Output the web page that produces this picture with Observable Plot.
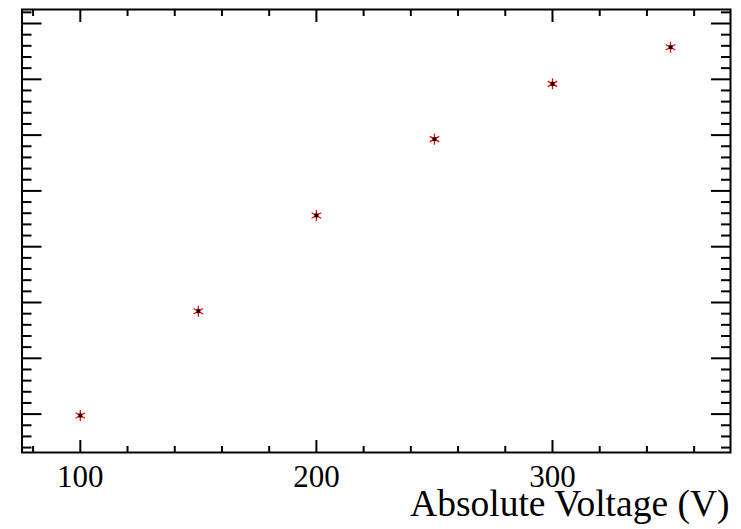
<!DOCTYPE html>
<html>
<head>
<meta charset="utf-8">
<script src="https://cdn.jsdelivr.net/npm/d3@7"></script>
<script src="https://cdn.jsdelivr.net/npm/@observablehq/plot@0.6"></script>
<style>
  html, body { margin: 0; padding: 0; background: #fff; }
  #chart svg { display: block; }
</style>
</head>
<body>
<div id="chart"></div>
<script>
// Data
const voltage = [100, 150, 200, 250, 300, 350];
const signal = [-0.025, 1.844, 3.56, 4.927, 5.919, 6.575];

// Axis ticks
const xMajorTicks = [100, 200, 300];
const xMinorTicks = [80, 120, 140, 160, 180, 220, 240, 260, 280, 320, 340, 360];
const yMajorTicks = [0, 1, 2, 3, 4, 5, 6, 7];
const yMinorTicks = d3.range(-3, 37).map(i => i * 0.2).filter(v => Math.abs(v - Math.round(v)) > 1e-6);
const xTitle = "Absolute Voltage (V)";

const points = voltage.map((v, i) => ({voltage: v, signal: signal[i]}));

const tickOpts = {text: null, strokeWidth: 2, label: null};

const chart = Plot.plot({
  width: 741,
  height: 529,
  marginLeft: 21.5,
  marginRight: 11,
  marginTop: 9,
  marginBottom: 77,
  style: {fontFamily: "Liberation Serif", fontSize: "31px", background: "#fff", color: "#000"},
  x: {domain: [75.3, 375.4]},
  y: {domain: [-0.688, 7.251]},
  marks: [
    // bottom axis ticks (inward)
    Plot.axisX(xMajorTicks, {anchor: "bottom", tickSize: -12, ...tickOpts}),
    Plot.axisX(xMinorTicks, {anchor: "bottom", tickSize: -6, ...tickOpts}),
    // top axis ticks (inward)
    Plot.axisX(xMajorTicks, {anchor: "top", tickSize: -12, ...tickOpts}),
    Plot.axisX(xMinorTicks, {anchor: "top", tickSize: -6, ...tickOpts}),
    // bottom tick labels
    Plot.axisX(xMajorTicks, {anchor: "bottom", tickSize: 0, tickPadding: 12, fontSize: 31, label: null}),
    // left axis ticks
    Plot.axisY(yMajorTicks, {anchor: "left", tickSize: -20, ...tickOpts}),
    Plot.axisY(yMinorTicks, {anchor: "left", tickSize: -10, ...tickOpts}),
    // right axis ticks
    Plot.axisY(yMajorTicks, {anchor: "right", tickSize: -20, ...tickOpts}),
    Plot.axisY(yMinorTicks, {anchor: "right", tickSize: -10, ...tickOpts}),
    Plot.frame({stroke: "#000", strokeWidth: 2}),
    // axis title
    Plot.text([xTitle], {frameAnchor: "bottom-right", textAnchor: "end", lineAnchor: "bottom", dy: 63, dx: -1, fontSize: 37.5}),
    // markers
    Plot.dot(points, {x: "voltage", y: "signal", symbol: "asterisk", r: 5.2, stroke: "#ff0000", strokeWidth: 1.3}),
    Plot.dot(points, {x: "voltage", y: "signal", symbol: "square", r: 2.2, fill: "#000", stroke: "none"})
  ]
});
document.getElementById("chart").appendChild(chart);
</script>
</body>
</html>
